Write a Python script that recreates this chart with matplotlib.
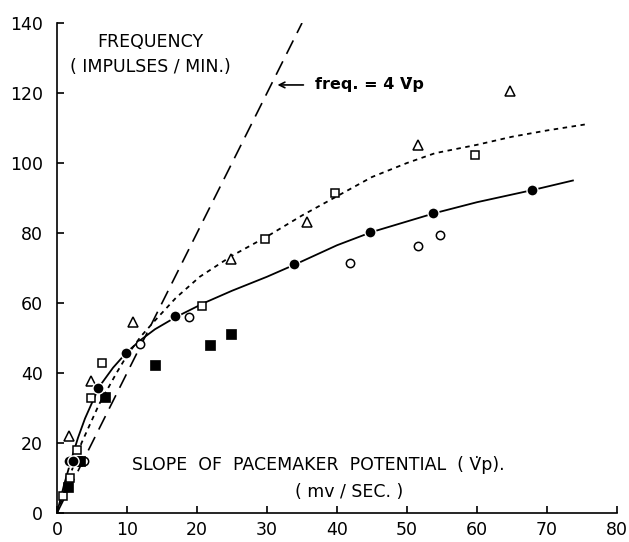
import matplotlib
matplotlib.use("Agg")
import matplotlib.pyplot as plt

# ---- data ----
filled_circle_x = [1.7, 2.3, 5.9, 9.8, 16.8, 33.8, 44.7, 53.7, 67.8]
filled_circle_y = [15, 15, 35.8, 45.8, 56.3, 71.2, 80.3, 85.7, 92.3]

open_circle_x = [3.9, 11.9, 18.8, 41.9, 51.6, 54.7]
open_circle_y = [14.8, 48.2, 55.9, 71.3, 76.3, 79.4]

open_square_x = [0.9, 1.9, 2.8, 4.8, 6.4, 20.7, 29.7, 39.7, 59.7]
open_square_y = [5, 10, 18, 33, 43, 59.2, 78.2, 91.5, 102.3]

open_triangle_x = [1.7, 4.8, 10.8, 24.8, 35.7, 51.6, 64.7]
open_triangle_y = [22, 37.8, 54.5, 72.5, 83.2, 105.2, 120.6]

filled_square_x = [1.5, 2.9, 3.3, 6.8, 14.0, 21.8, 24.8]
filled_square_y = [7.5, 14.8, 14.8, 33.2, 42.2, 48.1, 51.1]

# hand-drawn solid curve
solid_x = [0, 1, 2, 3, 4, 6, 8, 10, 12, 14, 17, 21, 25, 30, 34, 40, 45, 50, 54, 60, 68, 73.7]
solid_y = [0, 8, 15, 21.5, 27, 36, 41.5, 46, 49.5, 52.5, 56, 60, 63.5, 67.5, 71, 76.5, 80.3, 83.3, 85.7, 88.8, 92.3, 95]

# hand-drawn dotted curve
dotted_x = [0, 1, 2, 3.5, 6, 8.5, 10, 12, 14, 17, 20.4, 25, 30, 35, 40, 45, 50, 54, 60, 65, 70, 75.4]
dotted_y = [0, 5.5, 11.5, 20, 31, 40, 45, 50.5, 55, 61.5, 67.5, 73.5, 79, 85, 90.5, 96, 100, 102.8, 105.2, 107.5, 109.3, 111]

# freq = 4 Vp reference line
ref_slope = 4
ref_x = [0, 35]
ref_y = [ref_slope * v for v in ref_x]

x_ticks = [0, 10, 20, 30, 40, 50, 60, 70, 80]
y_ticks = [0, 20, 40, 60, 80, 100, 120, 140]

# ---- figure ----
fig = plt.figure(figsize=(6.29, 5.42), dpi=100)
ax = fig.add_axes([57 / 629, 1 - 513 / 542, (617 - 57) / 629, (513 - 23) / 542])

ax.plot(ref_x, ref_y, color="black", lw=1.2, dashes=(9, 5))
ax.plot(solid_x, solid_y, color="black", lw=1.3)
ax.plot(dotted_x, dotted_y, color="black", lw=1.3, dashes=(2.5, 2.5))

ax.plot(open_square_x, open_square_y, ls="none", marker="s", ms=6, mfc="white",
        mec="black", mew=1.1)
ax.plot(open_triangle_x, open_triangle_y, ls="none", marker="^", ms=6.5, mfc="white",
        mec="black", mew=1.1)
ax.plot(open_circle_x, open_circle_y, ls="none", marker="o", ms=6, mfc="white",
        mec="black", mew=1.1)
ax.plot(filled_square_x, filled_square_y, ls="none", marker="s", ms=6.5, mfc="black",
        mec="black", mew=0.5)
ax.plot(filled_circle_x, filled_circle_y, ls="none", marker="o", ms=8, mfc="black",
        mec="white", mew=1.0)

ax.set_xlim(0, 80)
ax.set_ylim(0, 140)
ax.set_xticks(x_ticks)
ax.set_yticks(y_ticks)
ax.spines["top"].set_visible(False)
ax.spines["right"].set_visible(False)
ax.spines["left"].set_linewidth(1.2)
ax.spines["bottom"].set_linewidth(1.2)
ax.tick_params(direction="in", length=5, width=1.2, labelsize=12.5)
ax.tick_params(axis="y", pad=10)
ax.tick_params(axis="x", pad=6)

ax.text(13.4, 134.6, "FREQUENCY", ha="center", va="center", fontsize=12.5)
ax.text(13.4, 127.4, "( IMPULSES / MIN.)", ha="center", va="center", fontsize=12.5)

ax.annotate("", xy=(31.1, 122.3), xytext=(35.6, 122.3),
            arrowprops=dict(arrowstyle="->", color="black", lw=1.2))
ax.text(36.9, 122.3, "freq. = 4 V\u0307p", ha="left", va="center", fontsize=11.5,
        fontweight="bold")

ax.text(10.7, 13.7, "SLOPE  OF  PACEMAKER  POTENTIAL  ( V\u0307p).", ha="left",
        va="center", fontsize=12.5)
ax.text(34.0, 6.1, "( mv / SEC. )", ha="left", va="center", fontsize=12.5)

fig.savefig("out.png", dpi=100)
